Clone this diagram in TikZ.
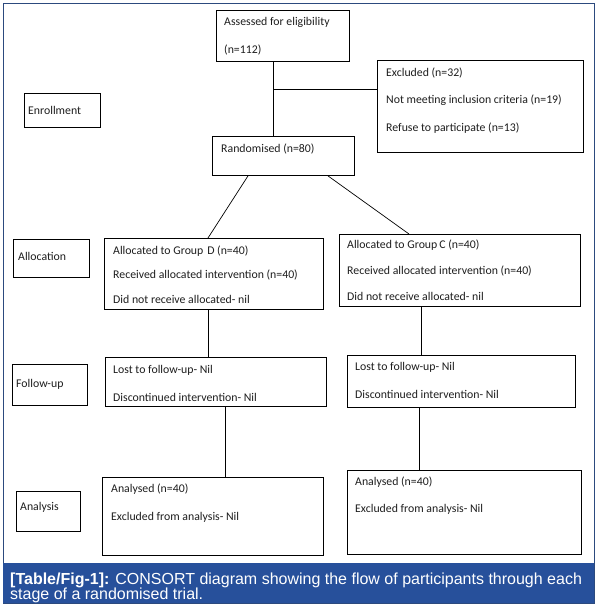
\documentclass[tikz,border=0pt]{standalone}
\usepackage{fontspec}
\setmainfont{Carlito}
\newfontfamily\capfont{Liberation Sans}
\definecolor{capblue}{HTML}{27509B}
\definecolor{framecol}{HTML}{2C4A7E}
\definecolor{txt}{HTML}{1E1E1E}
\begin{document}
\begin{tikzpicture}[x=1pt,y=-1pt,
  box/.style={draw=black,line width=0.9pt,inner sep=0pt,anchor=north west},
  lbl/.style={anchor=west,inner sep=0pt,text=txt,font=\fontsize{11.8}{13}\selectfont},
  conn/.style={draw=black,line width=0.9pt}]
\useasboundingbox[fill=white] (0,0) rectangle (598,616);
% frame and caption
\node[draw=framecol,line width=1.2pt,minimum width=591pt,minimum height=600pt,inner sep=0pt,anchor=north west] (frame) at (3,3) {};
\node[fill=capblue,minimum width=591pt,minimum height=40pt,inner sep=0pt,anchor=north west] (capbox) at (3,563) {};
\node[anchor=base west,inner sep=0pt,text=white,font=\capfont\fontsize{16}{16}\selectfont] (cap1) at (10,584) {\textbf{[Table/Fig-1]:} CONSORT diagram showing the flow of participants through each};
\node[anchor=base west,inner sep=0pt,text=white,font=\capfont\fontsize{16}{16}\selectfont] (cap2) at (10,599) {stage of a randomised trial.};
% boxes
\node[box,minimum width=133pt,minimum height=51pt] (assess) at (216,10) {};
\node[box,minimum width=206pt,minimum height=92pt] (excl) at (377,60) {};
\node[box,minimum width=76pt,minimum height=34pt] (enroll) at (24,93) {};
\node[box,minimum width=142pt,minimum height=39pt] (rand) at (212,136) {};
\node[box,minimum width=76pt,minimum height=38pt] (alloc) at (13,239) {};
\node[box,minimum width=219pt,minimum height=71pt] (grpD) at (104,238) {};
\node[box,minimum width=241pt,minimum height=72pt] (grpC) at (339,234) {};
\node[box,minimum width=75pt,minimum height=41pt] (follow) at (12,364) {};
\node[box,minimum width=221pt,minimum height=49pt] (lostD) at (105,357) {};
\node[box,minimum width=228pt,minimum height=52pt] (lostC) at (347,355) {};
\node[box,minimum width=64pt,minimum height=40pt] (analysis) at (16,491) {};
\node[box,minimum width=221pt,minimum height=78pt] (anD) at (102,477) {};
\node[box,minimum width=234pt,minimum height=84pt] (anC) at (347,470) {};
% texts
\node[lbl] (t1) at (224,22) {Assessed for eligibility};
\node[lbl] (t2) at (224,50) {(n=112)};
\node[lbl] (t3) at (386,73) {Excluded (n=32)};
\node[lbl] (t4) at (386,100) {Not meeting inclusion criteria (n=19)};
\node[lbl] (t5) at (386,128) {Refuse to participate (n=13)};
\node[lbl] (t6) at (28,110) {Enrollment};
\node[lbl] (t7) at (221,149) {Randomised (n=80)};
\node[lbl] (t8) at (18,256) {Allocation};
\node[lbl] (t9) at (113,251) {Allocated to Group\,\,D (n=40)};
\node[lbl] (t10) at (113,275) {Received allocated intervention (n=40)};
\node[lbl] (t11) at (113,299) {Did not receive allocated- nil};
\node[lbl] (t12) at (347,245) {Allocated to Group\,C (n=40)};
\node[lbl] (t13) at (347,271) {Received allocated intervention (n=40)};
\node[lbl] (t14) at (347,296) {Did not receive allocated- nil};
\node[lbl] (t15) at (16,384) {Follow-up};
\node[lbl] (t16) at (113,370) {Lost to follow-up- Nil};
\node[lbl] (t17) at (113,397) {Discontinued intervention- Nil};
\node[lbl] (t18) at (355,367) {Lost to follow-up- Nil};
\node[lbl] (t19) at (355,394) {Discontinued intervention- Nil};
\node[lbl] (t20) at (20,507) {Analysis};
\node[lbl] (t21) at (111,489) {Analysed (n=40)};
\node[lbl] (t22) at (111,517) {Excluded from analysis- Nil};
\node[lbl] (t23) at (355,482) {Analysed (n=40)};
\node[lbl] (t24) at (355,509) {Excluded from analysis- Nil};
% connectors
\draw[conn] (273,0 |- assess.south) -- (273,0 |- rand.north);
\draw[conn] (273,89) -- (excl.west |- 0,89);
\draw[conn,line width=0.7pt] (248,0 |- rand.south) -- (208,0 |- grpD.north);
\draw[conn,line width=0.7pt] (328,0 |- rand.south) -- (409,0 |- grpC.north);
\draw[conn,line width=0.7pt] (208,0 |- grpD.south) -- (208,0 |- lostD.north);
\draw[conn,line width=0.7pt] (225,0 |- lostD.south) -- (225,0 |- anD.north);
\draw[conn] (421,0 |- grpC.south) -- (421,0 |- lostC.north);
\draw[conn,line width=0.7pt] (419,0 |- lostC.south) -- (419,0 |- anC.north);
\end{tikzpicture}
\end{document}
